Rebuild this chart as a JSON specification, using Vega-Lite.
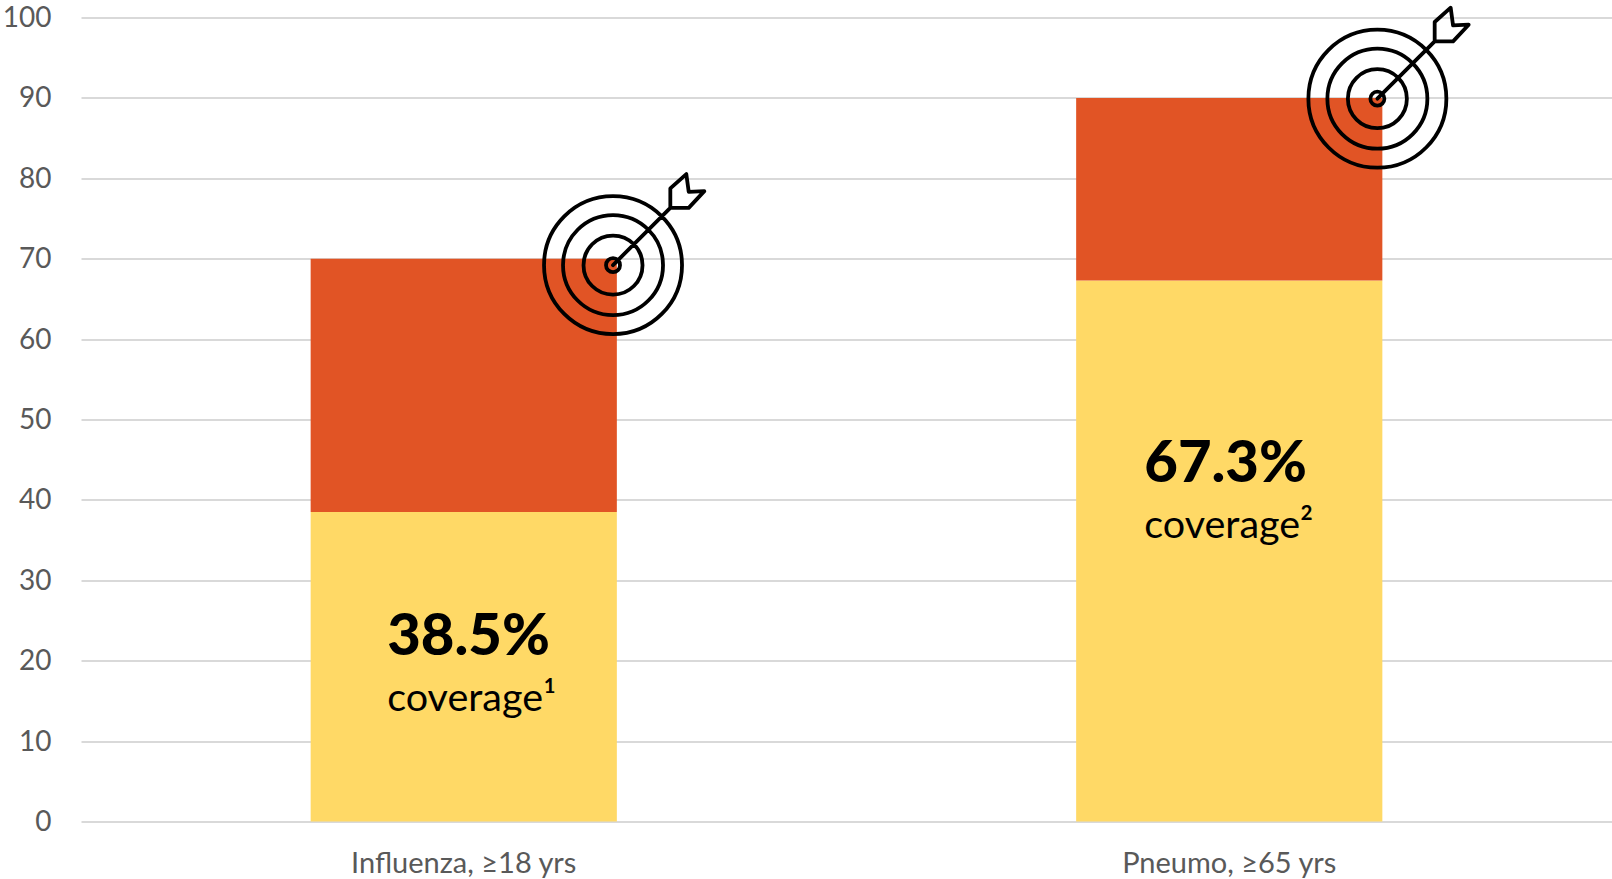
{
  "$schema": "https://vega.github.io/schema/vega-lite/v6.json",
  "autosize": "none",
  "padding": {"left": 81, "top": 17.5, "right": 0, "bottom": 57.5},
  "width": 1531,
  "height": 804,
  "background": "#ffffff",
  "config": {"view": {"stroke": null}, "font": "Lato"},
  "datasets": {
    "segments": [
      {"vaccine": "Influenza, ≥18 yrs", "segment": "Covered", "seg_order": 1, "percent": 38.5},
      {"vaccine": "Influenza, ≥18 yrs", "segment": "Gap to goal", "seg_order": 2, "percent": 31.5},
      {"vaccine": "Pneumo, ≥65 yrs", "segment": "Covered", "seg_order": 1, "percent": 67.3},
      {"vaccine": "Pneumo, ≥65 yrs", "segment": "Gap to goal", "seg_order": 2, "percent": 22.7}
    ],
    "callouts": [
      {"vaccine": "Influenza, ≥18 yrs", "headline": "38.5%", "note": "coverage¹", "text_pos": 0.4, "headline_at": 22.8, "note_at": 15.25},
      {"vaccine": "Pneumo, ≥65 yrs", "headline": "67.3%", "note": "coverage²", "text_pos": 1.389, "headline_at": 44.3, "note_at": 36.8}
    ],
    "goals": [
      {"vaccine": "Influenza, ≥18 yrs", "goal_pos": 0.695, "goal": 69.2},
      {"vaccine": "Pneumo, ≥65 yrs", "goal_pos": 1.6935, "goal": 89.9}
    ]
  },
  "resolve": {"scale": {"x": "independent"}, "axis": {"x": "independent"}},
  "layer": [
    {
      "data": {"name": "segments"},
      "mark": {"type": "bar"},
      "encoding": {
        "x": {
          "field": "vaccine",
          "type": "nominal",
          "sort": null,
          "scale": {"paddingInner": 0.6, "paddingOuter": 0.3},
          "axis": {
            "title": null,
            "labelAngle": 0,
            "labelFont": "Lato",
            "labelFontSize": 29,
            "labelColor": "#595959",
            "labelPadding": 28,
            "labelLimit": 0,
            "domain": false,
            "ticks": false,
            "grid": false
          }
        },
        "y": {
          "field": "percent",
          "type": "quantitative",
          "stack": "zero",
          "scale": {"domain": [0, 100], "nice": false},
          "axis": {
            "title": null,
            "values": [0, 10, 20, 30, 40, 50, 60, 70, 80, 90, 100],
            "labelFont": "Lato",
            "labelFontSize": 28,
            "labelColor": "#595959",
            "labelPadding": 30,
            "labelOffset": 1,
            "domain": false,
            "ticks": false,
            "grid": true,
            "gridColor": "#D9D9D9",
            "gridWidth": 2,
            "gridOpacity": 1
          }
        },
        "order": {"field": "seg_order", "type": "quantitative"},
        "color": {
          "field": "segment",
          "type": "nominal",
          "scale": {"domain": ["Covered", "Gap to goal"], "range": ["#FFD966", "#E15425"]},
          "legend": null
        }
      }
    },
    {
      "data": {"name": "callouts"},
      "mark": {"type": "text", "align": "left", "baseline": "middle", "font": "Lato", "fontWeight": 900, "fontSize": 58, "color": "#000000"},
      "encoding": {
        "x": {"field": "text_pos", "type": "quantitative", "scale": {"domain": [0, 2], "nice": false}, "axis": null},
        "y": {"field": "headline_at", "type": "quantitative"},
        "text": {"field": "headline"}
      }
    },
    {
      "data": {"name": "callouts"},
      "mark": {"type": "text", "align": "left", "baseline": "middle", "font": "Lato", "fontSize": 39.5, "color": "#000000"},
      "encoding": {
        "x": {"field": "text_pos", "type": "quantitative", "scale": {"domain": [0, 2], "nice": false}, "axis": null},
        "y": {"field": "note_at", "type": "quantitative"},
        "text": {"field": "note"}
      }
    },
    {
      "data": {"name": "goals"},
      "mark": {
        "type": "point",
        "filled": false,
        "stroke": "#000000",
        "strokeWidth": 3.8,
        "opacity": 1,
        "strokeOpacity": 1,
        "strokeJoin": "round",
        "strokeCap": "round",
        "size": 40000,
        "shape": "M0.69 0A0.69 0.69 0 1 1 -0.69 0A0.69 0.69 0 1 1 0.69 0ZM0.5 0A0.5 0.5 0 1 1 -0.5 0A0.5 0.5 0 1 1 0.5 0ZM0.295 0A0.295 0.295 0 1 1 -0.295 0A0.295 0.295 0 1 1 0.295 0ZM0.07 0A0.07 0.07 0 1 1 -0.07 0A0.07 0.07 0 1 1 0.07 0ZM0 0L0.573 -0.573M0.573 -0.573L0.573 -0.767L0.733 -0.91L0.757 -0.733L0.913 -0.74L0.757 -0.573Z"
      },
      "encoding": {
        "x": {"field": "goal_pos", "type": "quantitative", "scale": {"domain": [0, 2], "nice": false}, "axis": null},
        "y": {"field": "goal", "type": "quantitative"}
      }
    }
  ]
}
